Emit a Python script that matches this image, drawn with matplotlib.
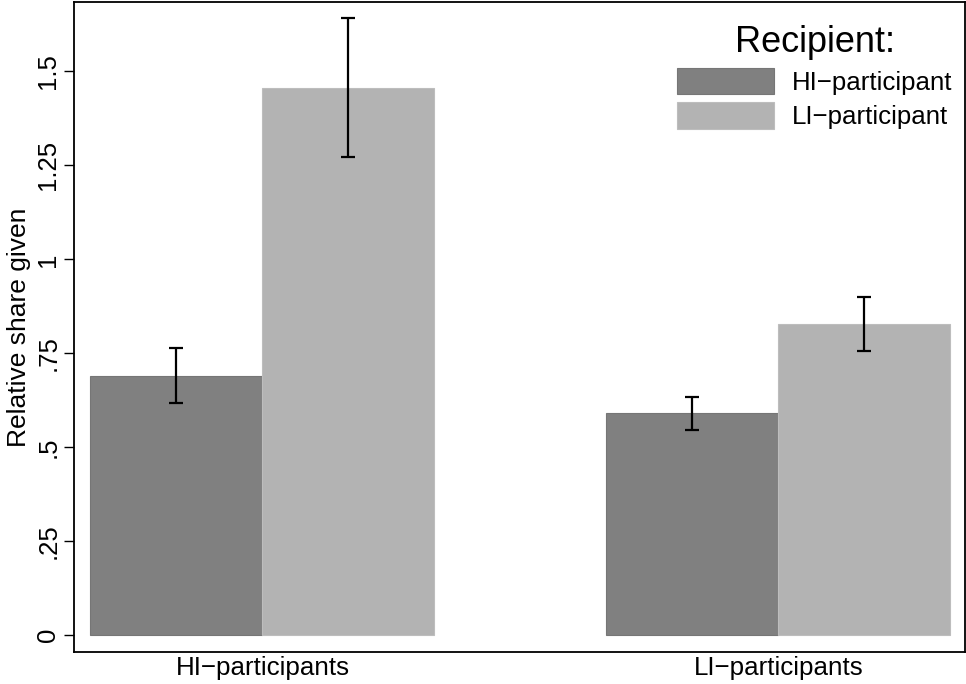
import numpy as np
import matplotlib.pyplot as plt

plt.rcParams["font.family"] = ["Liberation Sans", "DejaVu Sans"]

groups = ["HI\u2212participants", "LI\u2212participants"]
recipients = ["HI\u2212participant", "LI\u2212participant"]
# mean share given, then lower / upper CI bound, per group
hi_recipient = [0.690, 0.591]
hi_low = [0.617, 0.546]
hi_high = [0.763, 0.633]
li_recipient = [1.457, 0.828]
li_low = [1.272, 0.756]
li_high = [1.642, 0.899]
yticks = [0, 0.25, 0.5, 0.75, 1, 1.25, 1.5]
ytick_labels = ["0", ".25", ".5", ".75", "1", "1.25", "1.5"]

dark = "#808080"
light = "#b3b3b3"

fig = plt.figure(figsize=(9.66, 6.84), dpi=100)
ax = fig.add_axes([0.0769, 0.047, 0.9218, 0.9497])

centers = np.array([0.0, 3.0])
ax.bar(centers, hi_recipient, width=1.0, color=dark, edgecolor="#767676",
       linewidth=0.8, label=recipients[0])
ax.bar(centers + 1, li_recipient, width=1.0, color=light, edgecolor="#bdbdbd",
       linewidth=0.8, label=recipients[1])

for xs, m, lo, hi in [(centers, hi_recipient, hi_low, hi_high),
                      (centers + 1, li_recipient, li_low, li_high)]:
    m = np.array(m)
    err = [m - np.array(lo), np.array(hi) - m]
    ax.errorbar(xs, m, yerr=err, fmt="none", ecolor="black",
                elinewidth=1.6, capsize=4.7, capthick=1.6)

ax.set_xlim(-0.594, 4.583)
ax.set_ylim(-0.0444, 1.684)
ax.set_xticks(centers + 0.5)
ax.set_xticklabels(groups, fontsize=18.7)
ax.tick_params(axis="x", length=0, pad=3)
ax.set_yticks(yticks)
ax.set_yticklabels(ytick_labels, fontsize=18.5, rotation=90, va="center")
ax.tick_params(axis="y", length=7, width=1.0, pad=3)
ax.set_ylabel("Relative share given", fontsize=19, labelpad=4)

for s in ax.spines.values():
    s.set_linewidth(1.3)

leg = ax.legend(title="Recipient:", loc="upper right", frameon=False,
                fontsize=18.6, title_fontsize=26, handlelength=3.75,
                handleheight=1.2, handletextpad=0.7, labelspacing=0.3,
                borderaxespad=0.2, bbox_to_anchor=(1.0035, 0.989))
leg._legend_box.align = "center"

fig.savefig("out.png", dpi=100)
